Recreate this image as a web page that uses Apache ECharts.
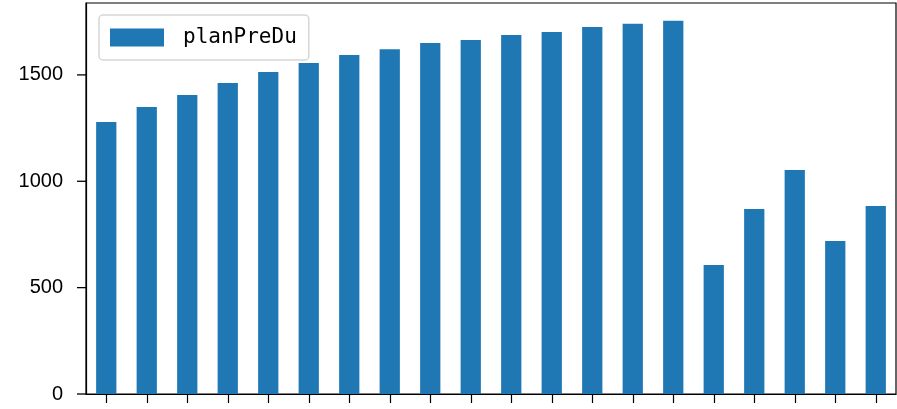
<!DOCTYPE html>
<html>
<head>
<meta charset="utf-8">
<script src="https://cdn.jsdelivr.net/npm/echarts@6/dist/echarts.min.js"></script>
<style>html,body{margin:0;padding:0;background:#fff}#c{width:897px;height:409px}</style>
</head>
<body>
<div id="c"></div>
<script>
const categories = ['1','2','3','4','5','6','7','8','9','10','11','12','13','14','15','16','17','18','19','20'];
const planPreDu = [1279, 1349, 1406, 1462, 1514, 1556, 1594, 1621, 1650, 1664, 1688, 1702, 1725, 1740, 1754, 606, 870, 1053, 719, 884];
const yTicks = [0, 500, 1000, 1500];
const seriesName = 'planPreDu';

const chart = echarts.init(document.getElementById('c'), null, {renderer: 'canvas'});
chart.setOption({
  animation: false,
  backgroundColor: '#fff',
  grid: {left: 86, right: 1, top: 3, bottom: 15, show: true, borderColor: '#000', borderWidth: 1.2, containLabel: false, outerBoundsMode: 'none'},
  legend: {
    data: [seriesName],
    left: 99, top: 15,
    padding: [12, 12, 12, 11],
    itemWidth: 54, itemHeight: 18,
    borderColor: '#d6d6d6', borderWidth: 1.5, borderRadius: 4,
    backgroundColor: '#fff',
    icon: 'rect',
    textStyle: {fontFamily: 'DejaVu Sans Mono', fontSize: 21, color: '#000', padding: [0, 0, 0, 14]}
  },
  xAxis: {
    type: 'category',
    data: categories,
    boundaryGap: true,
    axisLine: {show: true, lineStyle: {color: '#000', width: 1.2}},
    axisTick: {show: true, alignWithLabel: true, interval: 0, length: 9, lineStyle: {color: '#000', width: 1.2}},
    axisLabel: {show: true, interval: 0, color: 'rgba(0,0,0,0)', fontSize: 1},
    splitLine: {show: false}
  },
  yAxis: {
    type: 'value',
    min: 0, max: 1838, interval: 500,
    axisLine: {show: true, lineStyle: {color: '#000', width: 1.2}},
    axisTick: {show: false},
    axisLabel: {
      margin: 23, fontFamily: 'Liberation Sans', fontSize: 20, color: '#000',
      formatter: function (v) { return yTicks.indexOf(v) >= 0 ? String(v) : ''; }
    },
    splitLine: {show: false}
  },
  series: [{
    name: seriesName,
    type: 'bar',
    data: planPreDu,
    barWidth: '50%',
    itemStyle: {color: '#1f77b4'}
  }, {
    name: 'yTickMarks',
    type: 'custom',
    clip: false,
    silent: true,
    z: 10,
    data: yTicks.map(function (v) { return [0, v]; }),
    renderItem: function (params, api) {
      const p = api.coord([0, api.value(1)]);
      const band = api.size([1, 0])[0];
      const x0 = p[0] - band / 2;
      return {
        type: 'line',
        shape: {x1: x0 - 9, y1: p[1], x2: x0, y2: p[1]},
        style: {stroke: '#000', lineWidth: 1.3}
      };
    }
  }]
});
</script>
</body>
</html>
